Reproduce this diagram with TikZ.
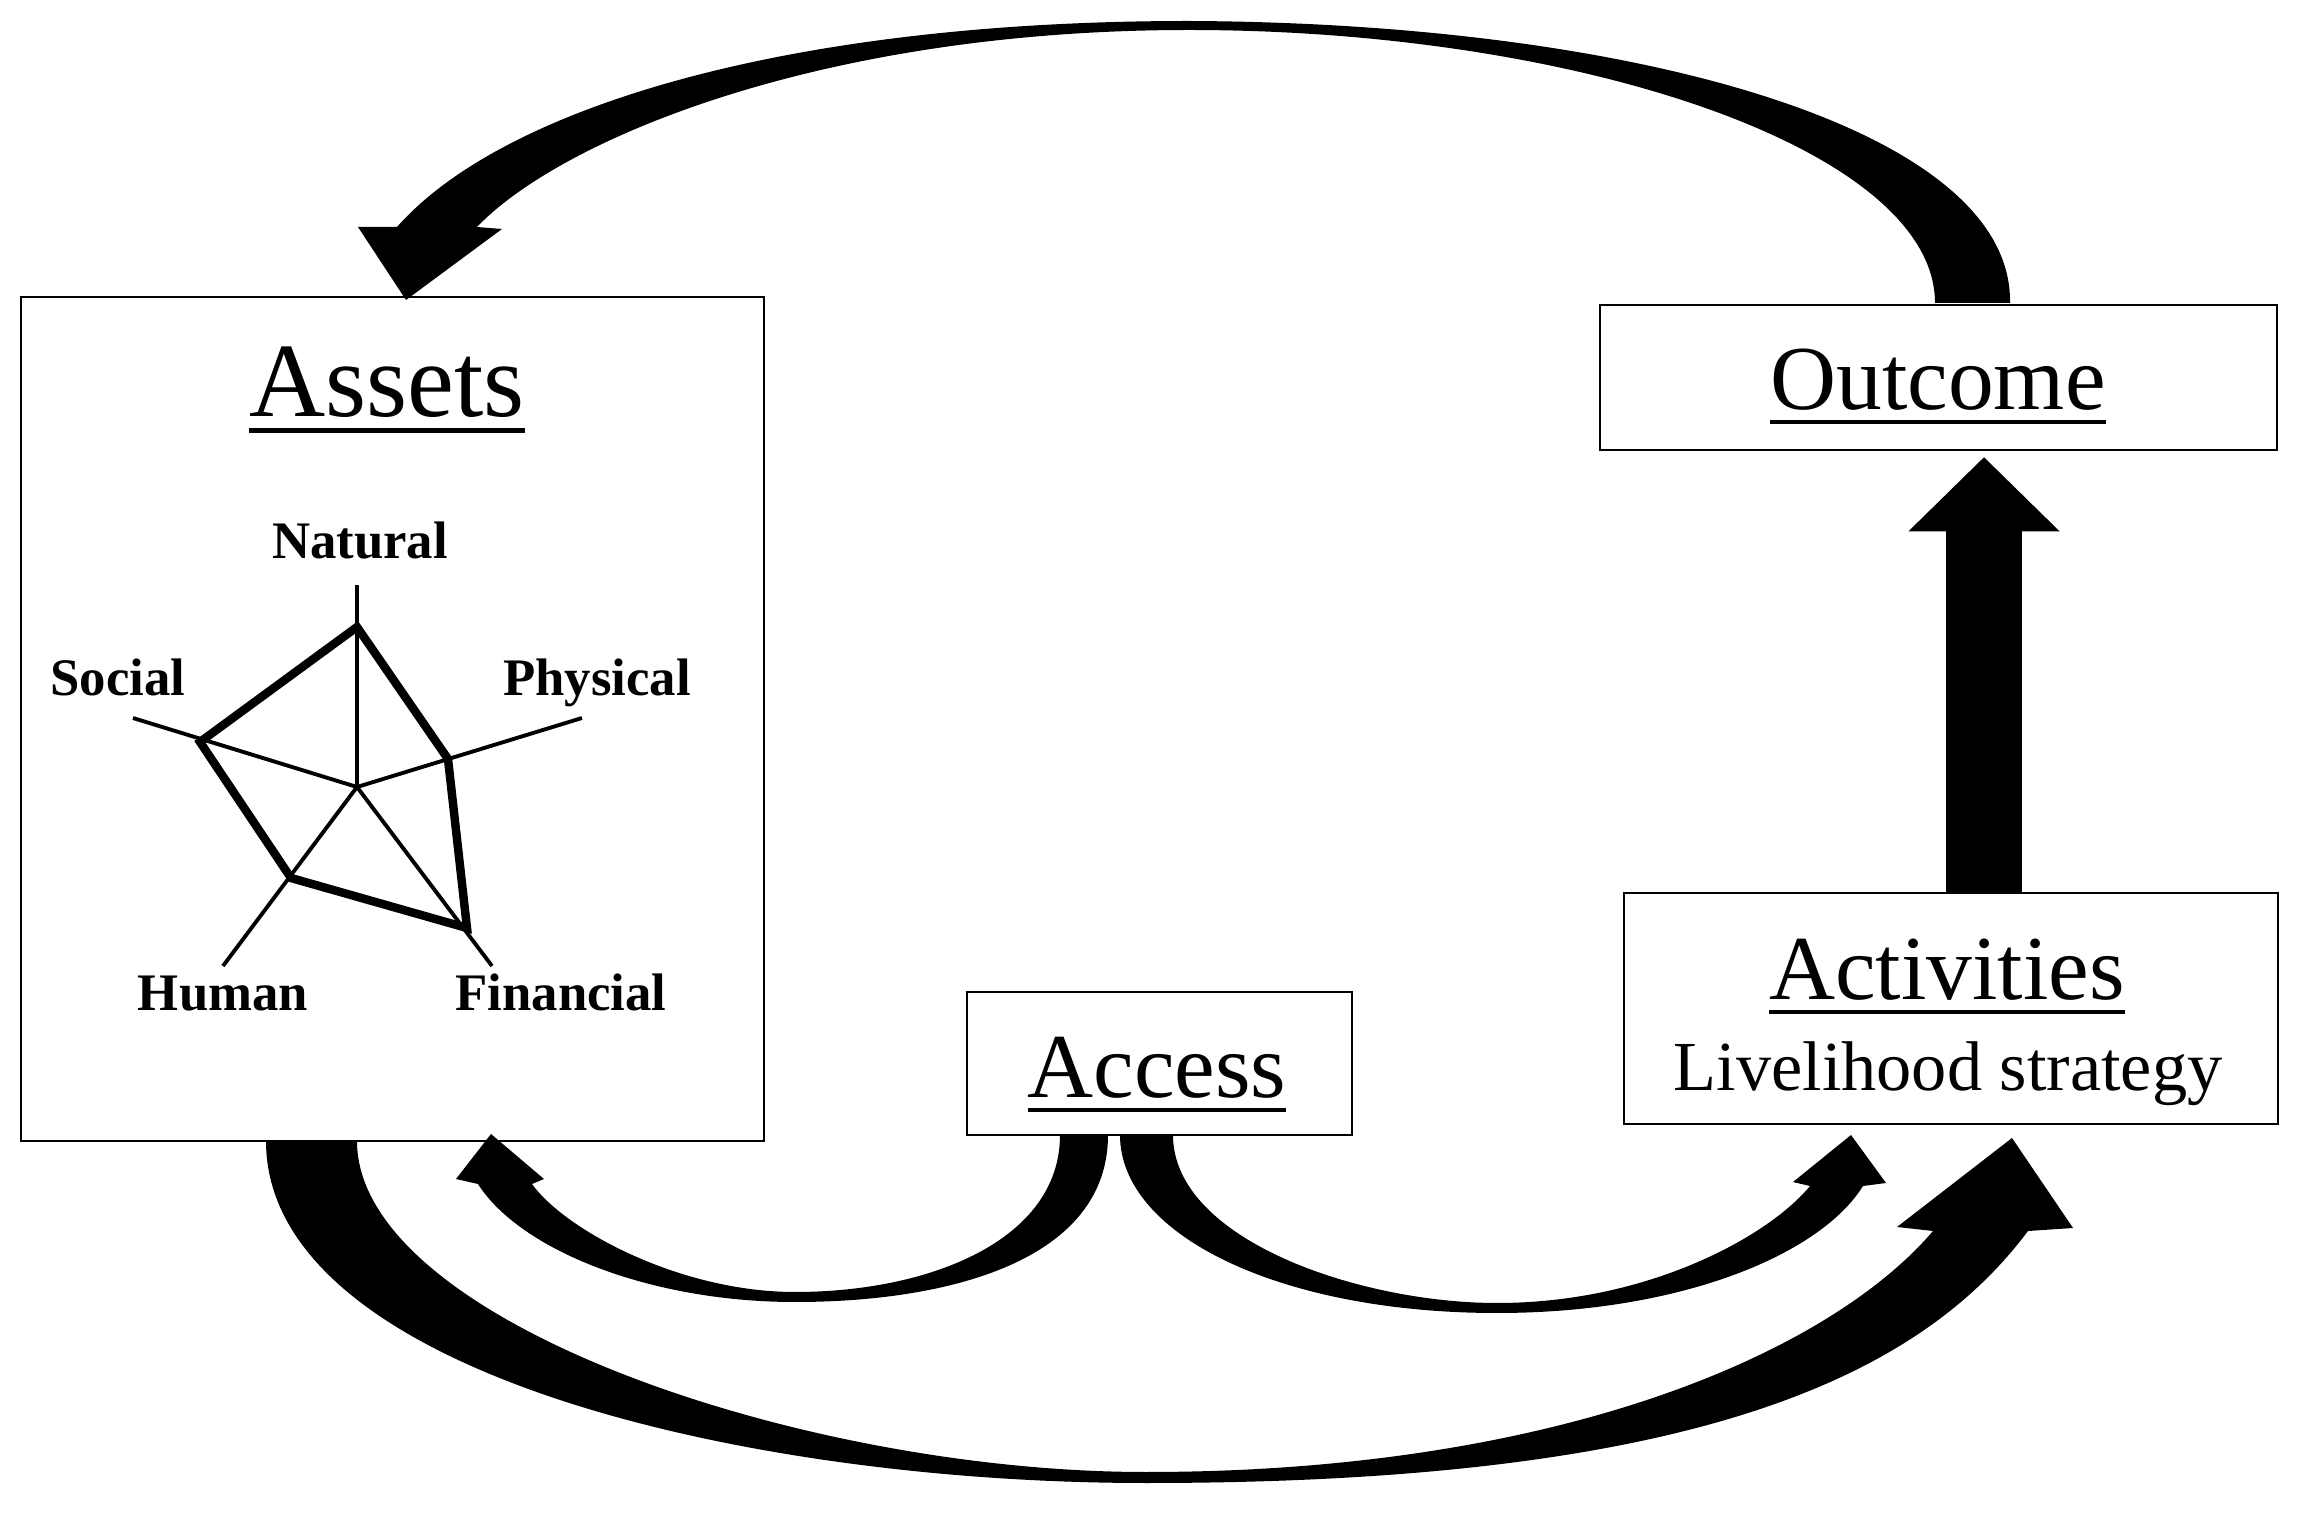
\documentclass[tikz,border=0pt]{standalone}
\usepackage{fontspec}
\setmainfont{Liberation Serif}
\usetikzlibrary{arrows.meta,calc}
\newcommand\ulx[1]{\setbox0=\hbox{#1}\leavevmode\rlap{\raisebox{-0.155em}{\rule{\wd0}{0.05em}}}\box0}
\begin{document}
\begin{tikzpicture}[x=0.01cm,y=-0.01cm,
  box/.style={draw, line width=0.7pt, inner sep=0pt},
  title/.style={inner sep=0pt, anchor=base, font=\fontsize{26}{30}\selectfont},
  lab/.style={inner sep=0pt, anchor=base, font=\fontsize{15}{18}\selectfont\bfseries},
  blk/.style={fill=black},
  axisline/.style={line width=1.1pt},
  poly/.style={line width=2.4pt, line join=miter},
  bigshaft/.style={line width=0.76cm, -{Triangle[length=0.74cm,width=1.51cm,line width=0pt]}}]
\useasboundingbox (0,0) rectangle (2311,1519);
\fill[white] (0,0) rectangle (2311,1519);

% boxes
\node[box, minimum width=7.43cm, minimum height=8.44cm] (assets) at (392.5,719) {};
\node[box, minimum width=6.77cm, minimum height=1.45cm] (outcome) at (1938.5,377.5) {};
\node[box, minimum width=6.54cm, minimum height=2.31cm] (activities) at (1951,1008.5) {};
\node[box, minimum width=3.85cm, minimum height=1.43cm] (access) at (1159.5,1063.5) {};

% titles
\node[title, font=\fontsize{30}{34}\selectfont] (tassets) at (387,417) {\ulx{Assets}};
\node[title] (toutcome) at (1938,410) {\ulx{Outcome}};
\node[title] (tactivities) at (1947,1000) {\ulx{Activities}};
\node[title, font=\fontsize{20}{24}\selectfont] (tstrategy) at (1948,1091) {Livelihood strategy};
\node[title] (taccess) at (1157,1098) {\ulx{Access}};

% radar chart
\coordinate (c) at (357,787);
\coordinate (enat) at (357,585);
\coordinate (ephy) at (582,718);
\coordinate (efin) at (492,966);
\coordinate (ehum) at (223,966);
\coordinate (esoc) at (133,718);
\draw[axisline] (c) -- (enat);
\draw[axisline] (c) -- (ephy);
\draw[axisline] (c) -- (efin);
\draw[axisline] (c) -- (ehum);
\draw[axisline] (c) -- (esoc);
\coordinate (vnat) at (357,627);
\coordinate (vphy) at (448,759);
\coordinate (vfin) at (467,928);
\coordinate (vhum) at (291,878);
\coordinate (vsoc) at (200,742);
\draw[poly] (vnat) -- (vphy) -- (vfin) -- (vhum) -- (vsoc) -- cycle;
\node[lab] (lnat) at (360,559) {Natural};
\node[lab] (lphy) at (597,696) {Physical};
\node[lab] (lsoc) at (118,696) {Social};
\node[lab] (lhum) at (223,1011) {Human};
\node[lab] (lfin) at (561,1011) {Financial};

% top arrow: Outcome -> Assets
\fill[blk] (2010,303) .. controls (2013,130) and (1640,23) .. (1189,21)
  .. controls (780,21) and (500,110) .. (397,227)
  -- (358,227) -- (406,300) -- (502,229) -- (477,227)
  .. controls (560,140) and (820,30) .. (1189,30)
  .. controls (1580,30) and (1935,150) .. (1935,303) -- cycle;

% bottom arrow: Assets -> Activities
\fill[blk] (266,1141) .. controls (266,1370) and (740,1483) .. (1146,1483)
  .. controls (1700,1483) and (1920,1375) .. (2028,1231)
  -- (2073,1228) -- (2012,1138) -- (1897,1227) -- (1933,1231)
  .. controls (1830,1352) and (1560,1472) .. (1146,1472)
  .. controls (800,1472) and (357,1320) .. (357,1141) -- cycle;

% Access -> Assets
\fill[blk] (1108,1135) .. controls (1108,1260) and (950,1302) .. (795,1302)
  .. controls (650,1302) and (520,1250) .. (478,1184)
  -- (456,1179) -- (491,1134) -- (544,1179) -- (532,1184)
  .. controls (565,1230) and (680,1292) .. (795,1292)
  .. controls (930,1292) and (1060,1240) .. (1060,1135) -- cycle;

% Access -> Activities
\fill[blk] (1120,1135) .. controls (1120,1235) and (1280,1313) .. (1497,1313)
  .. controls (1680,1313) and (1820,1255) .. (1863,1186)
  -- (1886,1183) -- (1851,1135) -- (1793,1182) -- (1810,1186)
  .. controls (1770,1235) and (1650,1303) .. (1497,1303)
  .. controls (1360,1303) and (1173,1240) .. (1173,1135) -- cycle;

% Activities -> Outcome
\coordinate (vs) at ([xshift=0.33cm]activities.north);
\coordinate (ve) at ($(vs |- outcome.south)+(0,6)$);
\draw[bigshaft] (vs) -- (ve);
\end{tikzpicture}
\end{document}
